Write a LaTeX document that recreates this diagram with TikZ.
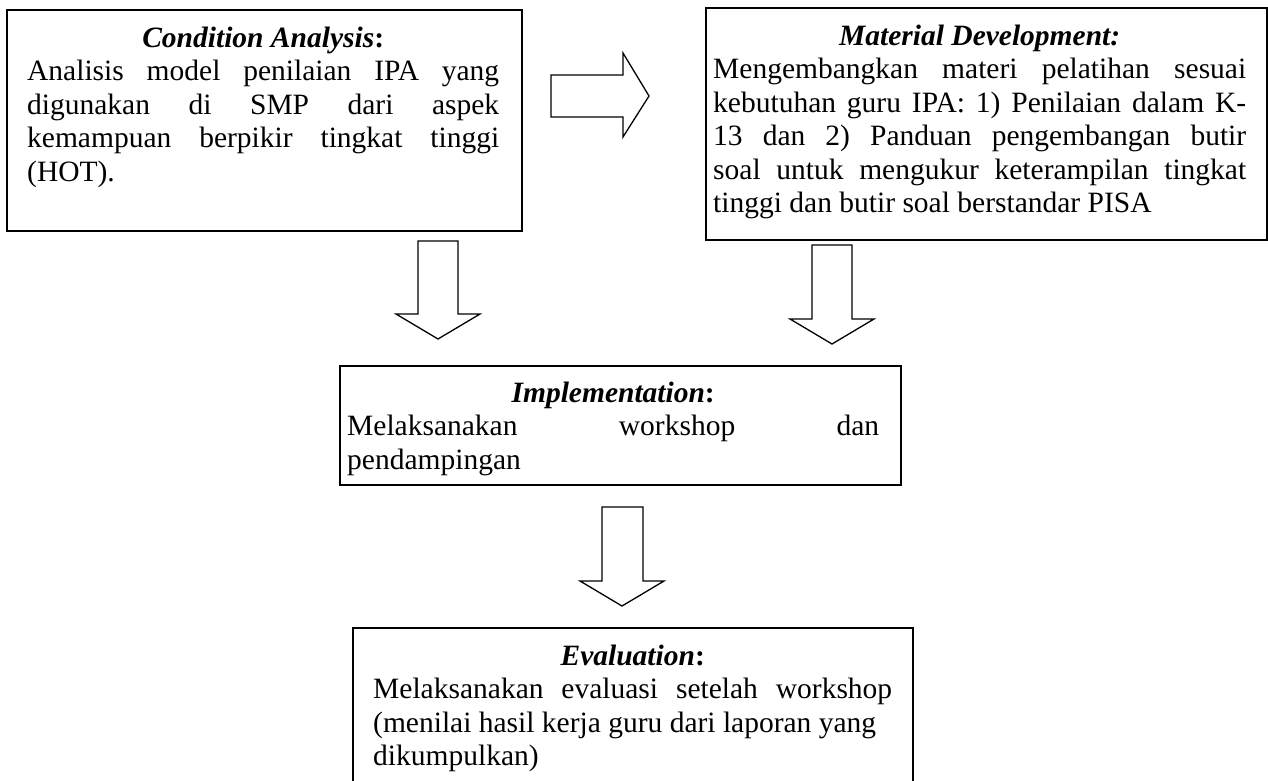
\documentclass[tikz,border=0pt]{standalone}
\usepackage{fontspec}
\setmainfont{Liberation Serif}
\setlength{\parindent}{0pt}

\tikzset{
  stagebox/.style={draw, line width=1.6pt, inner sep=0pt, anchor=north west},
  stagetext/.style={inner sep=0pt, anchor=north west, align=justify,
    font=\fontsize{29.5}{33.5}\selectfont},
  bigarrow/.style={draw, line width=1.3pt, line join=miter}
}

\begin{document}
\begin{tikzpicture}[x=1pt,y=-1pt]

\clip (0,0) rectangle (1268,781);

% the four stages
\node(cond)[stagebox, minimum width=515, minimum height=221] at (6,9) {};
\node(mat)[stagebox, minimum width=561, minimum height=232] at (705,7) {};
\node(impl)[stagebox, minimum width=561, minimum height=119] at (339,365) {};
\node(eval)[stagebox, minimum width=560, minimum height=170] at (352,627) {};

\node(condtext)[stagetext, text width=472] at (27,26.4)
  {{\centering\textbf{\textit{Condition Analysis}:}\par}
   Analisis model penilaian IPA yang\linebreak
   digunakan di SMP dari aspek\linebreak
   kemampuan berpikir tingkat tinggi\linebreak
   (HOT).};

\node(mattext)[stagetext, text width=533] at (713,24.4)
  {{\centering\textbf{\textit{Material Development:}}\par}
   Mengembangkan materi pelatihan sesuai\linebreak
   kebutuhan guru IPA: 1) Penilaian dalam K-\linebreak
   13 dan 2) Panduan pengembangan butir\linebreak
   soal untuk mengukur keterampilan tingkat\linebreak
   tinggi dan butir soal berstandar PISA};

\node(impltext)[stagetext, text width=532] at (347,381.4)
  {{\centering\textbf{\textit{Implementation}:}\par}
   Melaksanakan workshop dan\linebreak
   pendampingan};

\node(evaltext)[stagetext, text width=519] at (373,644.4)
  {{\centering\textbf{\textit{Evaluation}:}\par}
   Melaksanakan evaluasi setelah workshop\linebreak
   (menilai hasil kerja guru dari laporan yang\newline
   dikumpulkan)};

% block arrows
\draw[bigarrow] (551,75) -- (623,75) -- (623,53) -- (649,96) -- (623,137) -- (623,117) -- (551,117) -- cycle;
\draw[bigarrow] (418,241) -- (458,241) -- (458,314) -- (480,314) -- (438,339) -- (396,314) -- (418,314) -- cycle;
\draw[bigarrow] (812,245) -- (852,245) -- (852,319) -- (874,319) -- (832,344) -- (790,319) -- (812,319) -- cycle;
\draw[bigarrow] (602,507) -- (643,507) -- (643,581) -- (664,581) -- (622,606) -- (580,581) -- (602,581) -- cycle;

\end{tikzpicture}
\end{document}
